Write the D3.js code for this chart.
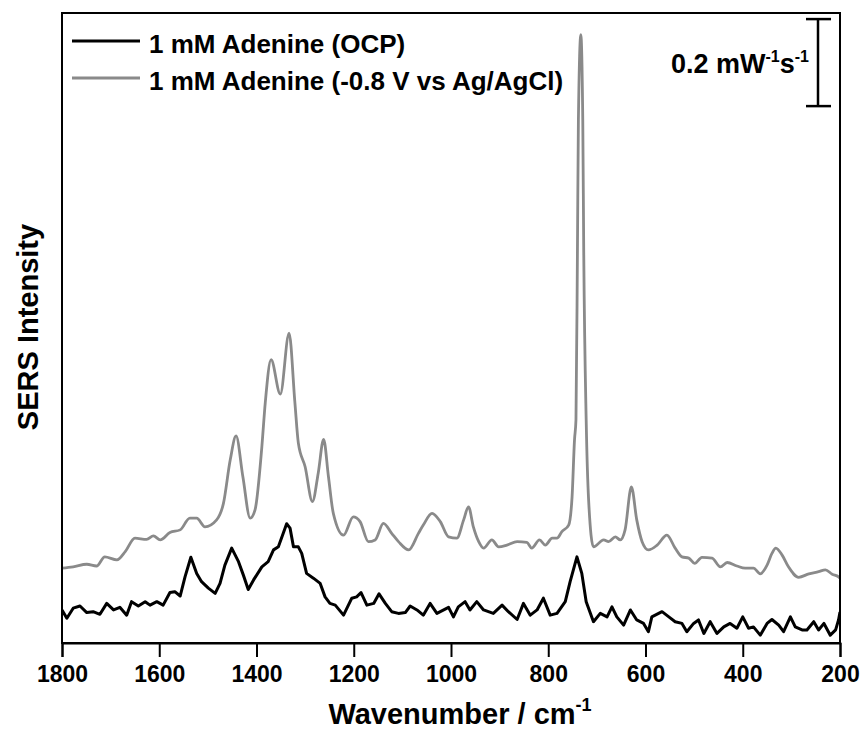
<!DOCTYPE html>
<html>
<head>
<meta charset="utf-8">
<script src="https://cdn.jsdelivr.net/npm/d3@7"></script>
<style>
  html, body { margin: 0; padding: 0; background: #fff; }
  svg { display: block; }
  text { font-family: "Liberation Sans", Arial, Helvetica, sans-serif; font-weight: bold; fill: #000; }
</style>
</head>
<body>
<div id="chart"></div>
<script>
// ---- Data (wavenumber cm^-1, SERS intensity in mW^-1 s^-1 units) ----
const xTicks = [1800, 1600, 1400, 1200, 1000, 800, 600, 400, 200];

const seriesNames = ["1 mM Adenine (OCP)", "1 mM Adenine (-0.8 V vs Ag/AgCl)"];

const ocpWavenumber = [1800,1790,1777,1763,1749,1736,1722,1708,1694,1681,1667,1657,1643,1629,1619,1605,1592,1578,1568,1557,1547,1535,1523,1513,1499,1485,1475,1465,1451,1437,1427,1417,1406,1389,1376,1365,1355,1345,1338,1331,1324,1314,1307,1297,1283,1269,1259,1249,1238,1221,1204,1194,1185,1173,1159,1148,1135,1122,1108,1094,1084,1070,1057,1043,1029,1015,1005,995,985,971,961,947,933,913,895,882,864,851,837,823,810,796,782,765,755,741,731,722,707,693,679,669,659,645,631,618,604,594,587,566,552,539,525,515,501,491,480,467,453,439,426,412,400,388,378,364,350,340,326,316,302,292,278,268,254,244,233,220,209,203,200];
const ocpIntensity = [0.076,0.057,0.080,0.085,0.070,0.072,0.066,0.091,0.076,0.082,0.064,0.095,0.085,0.095,0.087,0.095,0.087,0.116,0.118,0.108,0.152,0.197,0.160,0.141,0.126,0.114,0.137,0.179,0.218,0.187,0.156,0.123,0.145,0.175,0.187,0.214,0.221,0.252,0.274,0.264,0.221,0.221,0.206,0.160,0.149,0.137,0.106,0.091,0.087,0.064,0.103,0.106,0.116,0.087,0.091,0.113,0.091,0.072,0.068,0.070,0.085,0.076,0.064,0.091,0.068,0.076,0.082,0.060,0.083,0.095,0.076,0.095,0.076,0.068,0.087,0.072,0.054,0.091,0.064,0.076,0.103,0.064,0.068,0.095,0.141,0.198,0.160,0.095,0.049,0.068,0.060,0.083,0.060,0.041,0.076,0.053,0.045,0.026,0.060,0.072,0.060,0.049,0.045,0.026,0.045,0.053,0.022,0.049,0.022,0.037,0.045,0.034,0.060,0.034,0.037,0.018,0.045,0.054,0.041,0.026,0.060,0.037,0.030,0.030,0.049,0.030,0.045,0.018,0.030,0.053,0.071];

const negWavenumber = [1800,1777,1749,1729,1712,1687,1670,1650,1626,1612,1598,1578,1557,1537,1523,1506,1482,1468,1454,1442,1428,1413,1403,1389,1382,1370,1351,1333,1321,1314,1300,1285,1273,1262,1252,1242,1221,1201,1187,1170,1156,1139,1122,1108,1087,1067,1057,1039,1022,1005,988,974,964,954,943,933,916,902,885,864,844,834,818,806,792,782,772,758,751,746,743,740,738,733,729,727,722,717,707,686,676,662,652,642,629,618,607,594,576,556,539,525,511,499,484,463,446,432,412,395,378,364,350,340,332,319,306,285,264,244,230,216,203,200];
const negIntensity = [0.172,0.175,0.181,0.177,0.198,0.191,0.210,0.241,0.238,0.246,0.237,0.254,0.260,0.287,0.287,0.267,0.283,0.321,0.421,0.476,0.382,0.287,0.306,0.451,0.552,0.651,0.572,0.712,0.552,0.460,0.405,0.325,0.391,0.468,0.382,0.298,0.248,0.290,0.279,0.233,0.237,0.275,0.252,0.233,0.214,0.252,0.271,0.298,0.279,0.244,0.241,0.283,0.313,0.267,0.233,0.218,0.237,0.221,0.225,0.233,0.231,0.218,0.237,0.225,0.241,0.241,0.256,0.271,0.336,0.467,0.513,0.897,1.202,1.398,1.202,0.897,0.513,0.329,0.221,0.237,0.233,0.244,0.237,0.260,0.359,0.283,0.233,0.214,0.225,0.248,0.218,0.198,0.195,0.183,0.197,0.195,0.175,0.185,0.177,0.172,0.172,0.159,0.179,0.206,0.218,0.202,0.175,0.151,0.159,0.164,0.168,0.158,0.152,0.149];

const scaleBarTop = 1.434;      // intensity at top of scale bar
const scaleBarLength = 0.2;     // 0.2 mW^-1 s^-1

// ---- Layout ----
const W = 861, H = 731;
const plot = { left: 62, right: 840, top: 13, bottom: 643 };

const svg = d3.select("#chart").append("svg").attr("width", W).attr("height", H);

const x = d3.scaleLinear().domain([1800, 200]).range([plot.left, plot.right]);
const y = d3.scaleLinear().domain([0, 1.448]).range([plot.bottom, plot.top]);

const ocp = ocpWavenumber.map((w, i) => ({ w, v: ocpIntensity[i] }));
const neg = negWavenumber.map((w, i) => ({ w, v: negIntensity[i] }));

const lineLin = d3.line().x(d => x(d.w)).y(d => y(d.v));
const lineSmooth = d3.line().x(d => x(d.w)).y(d => y(d.v)).curve(d3.curveMonotoneX);

const g = svg.append("g");
g.append("defs").append("clipPath").attr("id", "clip")
  .append("rect").attr("x", plot.left).attr("y", plot.top)
  .attr("width", plot.right - plot.left).attr("height", plot.bottom - plot.top);

g.append("path").datum(neg).attr("d", lineSmooth)
  .attr("fill", "none").attr("stroke", "#8a8a8a").attr("stroke-width", 2.8)
  .attr("stroke-linejoin", "round").attr("clip-path", "url(#clip)");
g.append("path").datum(ocp).attr("d", lineLin)
  .attr("fill", "none").attr("stroke", "#000").attr("stroke-width", 3)
  .attr("stroke-linejoin", "round").attr("clip-path", "url(#clip)");

// Frame
svg.append("rect").attr("x", plot.left).attr("y", plot.top)
  .attr("width", plot.right - plot.left).attr("height", plot.bottom - plot.top)
  .attr("fill", "none").attr("stroke", "#000").attr("stroke-width", 2);

// Bottom axis
const xAxis = d3.axisBottom(x).tickValues(xTicks).tickSize(14).tickPadding(9).tickFormat(d3.format("d"));
const ax = svg.append("g").attr("transform", `translate(0,${plot.bottom})`).call(xAxis);
ax.select(".domain").attr("stroke-width", 2);
ax.selectAll(".tick line").attr("stroke-width", 2);
ax.selectAll(".tick text").style("font-size", "23px").style("font-weight", "bold")
  .style("font-family", '"Liberation Sans", Arial, sans-serif').attr("fill", "#000");

// Axis titles
const xt = svg.append("text").attr("x", 460).attr("y", 724).attr("text-anchor", "middle")
  .style("font-size", "29px");
xt.append("tspan").text("Wavenumber / cm");
xt.append("tspan").text("-1").style("font-size", "18px").attr("dy", -13);

svg.append("text").attr("transform", "translate(38,327) rotate(-90)")
  .attr("text-anchor", "middle").style("font-size", "29px").text("SERS Intensity");

// Legend
const legColors = ["#000", "#8a8a8a"];
const legY = [41, 78];
seriesNames.forEach((name, i) => {
  svg.append("line").attr("x1", 72).attr("x2", 140).attr("y1", legY[i]).attr("y2", legY[i])
    .attr("stroke", legColors[i]).attr("stroke-width", 2.8);
  svg.append("text").attr("x", 149).attr("y", legY[i] + 12).style("font-size", "26px").text(name);
});

// Scale bar
const sbX = 818;
const sbTop = y(scaleBarTop), sbBot = y(scaleBarTop - scaleBarLength);
svg.append("line").attr("x1", sbX).attr("x2", sbX).attr("y1", sbTop).attr("y2", sbBot)
  .attr("stroke", "#000").attr("stroke-width", 2.5);
[sbTop, sbBot].forEach(yy => svg.append("line").attr("x1", sbX - 12).attr("x2", sbX + 13)
  .attr("y1", yy).attr("y2", yy).attr("stroke", "#000").attr("stroke-width", 2.5));
const sl = svg.append("text").attr("x", 809).attr("y", 73).attr("text-anchor", "end").style("font-size", "27px");
sl.append("tspan").text("0.2 mW");
sl.append("tspan").text("-1").style("font-size", "16px").attr("dy", -11);
sl.append("tspan").text("s").attr("dy", 11);
sl.append("tspan").text("-1").style("font-size", "16px").attr("dy", -11);
</script>
</body>
</html>
